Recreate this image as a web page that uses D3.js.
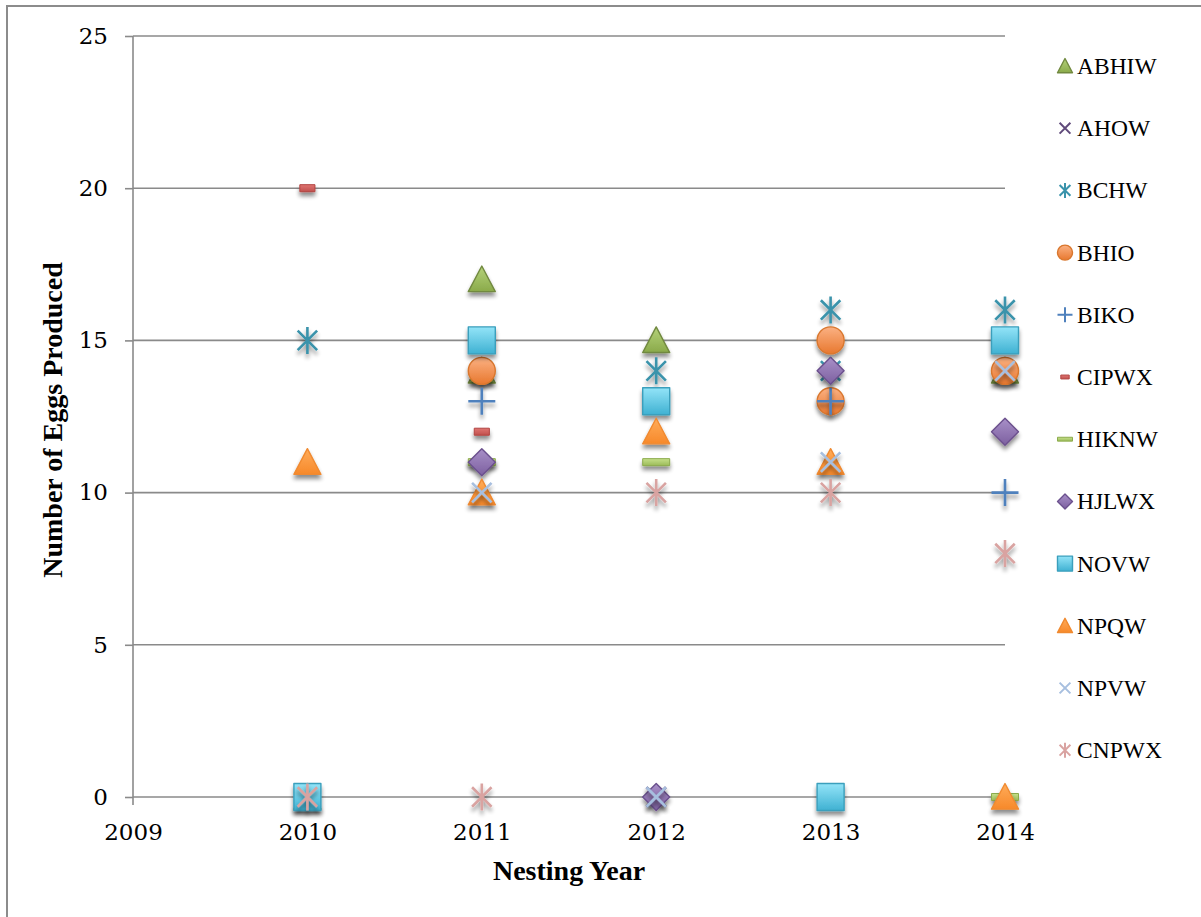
<!DOCTYPE html>
<html>
<head>
<meta charset="utf-8">
<script src="https://cdn.jsdelivr.net/npm/d3@7"></script>
<style>
  html, body { margin: 0; padding: 0; background: #fff; }
  svg { display: block; }
</style>
</head>
<body>
<div id="chart"></div>
<script>
// ---- data ----
const yearTicks = [2009, 2010, 2011, 2012, 2013, 2014];
const eggTicks = [0, 5, 10, 15, 20, 25];

const seriesNames = ["ABHIW", "AHOW", "BCHW", "BHIO", "BIKO", "CIPWX",
                     "HIKNW", "HJLWX", "NOVW", "NPQW", "NPVW", "CNPWX"];

// [year, eggs]
const abhiw = [[2010, 0], [2011, 17], [2011, 14], [2012, 15], [2014, 14]];
const ahow  = [[2010, 0], [2012, 0]];
const bchw  = [[2010, 15], [2011, 14], [2012, 14], [2013, 16], [2013, 14], [2014, 16]];
const bhio  = [[2011, 14], [2013, 15], [2013, 13], [2014, 14]];
const biko  = [[2011, 13], [2013, 13], [2014, 10]];
const cipwx = [[2010, 20], [2011, 12], [2013, 0]];
const hiknw = [[2011, 11], [2012, 11], [2014, 0]];
const hjlwx = [[2011, 11], [2012, 0], [2013, 14], [2014, 12]];
const novw  = [[2010, 0], [2011, 15], [2012, 13], [2013, 0], [2014, 15]];
const npqw  = [[2010, 11], [2011, 10], [2012, 12], [2013, 11], [2014, 0]];
const npvw  = [[2011, 10], [2012, 0], [2013, 11], [2014, 14]];
const cnpwx = [[2010, 0], [2011, 0], [2012, 10], [2013, 10], [2014, 8]];

const seriesValues = [abhiw, ahow, bchw, bhio, biko, cipwx, hiknw, hjlwx, novw, npqw, npvw, cnpwx];

// ---- styles ----
const markerShapes = ["triangle", "x", "star", "circle", "plus", "dash",
                      "dash", "diamond", "square", "triangle", "x", "star"];
const fillTop    = ["#b5d27a", "#604a7b", "#3a93ab", "#fbb183", "#4f81bd", "#e07572",
                    "#c6e08a", "#a890c8", "#93e4f8", "#ffac5a", "#a7bfdf", "#e0a8a6"];
const fillBottom = ["#8aaa4a", "#604a7b", "#3a93ab", "#e8782f", "#4f81bd", "#c0504d",
                    "#9bbb59", "#7d60a0", "#3fb1d2", "#f7892a", "#a7bfdf", "#e0a8a6"];
const strokeCol  = ["#71893f", "#604a7b", "#3a93ab", "#d9772e", "#4f81bd", "#b24542",
                    "#8cab4c", "#6b508d", "#3a9fbc", "#f08a30", "#a7bfdf", "#d9a3a1"];

const W = 1201, H = 917;
const svg = d3.select("#chart").append("svg").attr("width", W).attr("height", H);
const defs = svg.append("defs");

// drop shadow like the Excel markers
const shadow = defs.append("filter").attr("id", "shadow")
  .attr("x", "-50%").attr("y", "-50%").attr("width", "200%").attr("height", "220%");
shadow.append("feGaussianBlur").attr("in", "SourceAlpha").attr("stdDeviation", 2.2).attr("result", "b");
shadow.append("feOffset").attr("in", "b").attr("dx", 0).attr("dy", 4).attr("result", "o");
shadow.append("feComponentTransfer").attr("in", "o").attr("result", "o2")
  .append("feFuncA").attr("type", "linear").attr("slope", 0.45);
const merge = shadow.append("feMerge");
merge.append("feMergeNode").attr("in", "o2");
merge.append("feMergeNode").attr("in", "SourceGraphic");

seriesNames.forEach((n, i) => {
  const g = defs.append("linearGradient").attr("id", "grad" + i)
    .attr("x1", 0).attr("y1", 0).attr("x2", 0).attr("y2", 1);
  g.append("stop").attr("offset", "0%").attr("stop-color", fillTop[i]);
  g.append("stop").attr("offset", "100%").attr("stop-color", fillBottom[i]);
});

// outer chart border (right/bottom edges fall outside the picture)
svg.append("rect").attr("x", 7).attr("y", 6).attr("width", 1230).attr("height", 940)
  .attr("fill", "none").attr("stroke", "#8c8c8c").attr("stroke-width", 2);

const x = d3.scaleLinear().domain([2009, 2014]).range([133, 1005]);
const y = d3.scaleLinear().domain([0, 25]).range([797, 36]);

// gridlines
svg.append("g").selectAll("line").data(eggTicks).join("line")
  .attr("x1", 133).attr("x2", x(2014))
  .attr("y1", d => y(d)).attr("y2", d => y(d))
  .attr("stroke", "#8a8a8a").attr("stroke-width", 1.6);

// y axis
const yAxis = svg.append("g").attr("transform", "translate(133,0)")
  .call(d3.axisLeft(y).tickValues(eggTicks).tickSize(8).tickSizeOuter(0).tickPadding(17));
yAxis.select(".domain").remove();
yAxis.selectAll(".tick line").attr("stroke", "#8a8a8a").attr("stroke-width", 1.6);
yAxis.selectAll(".tick text").attr("font-family", "DejaVu Serif").attr("font-size", 23).attr("fill", "#000");
svg.append("line").attr("x1", 133).attr("x2", 133).attr("y1", y(25)).attr("y2", y(0) + 8)
  .attr("stroke", "#8a8a8a").attr("stroke-width", 1.6);

// x axis
const xAxis = svg.append("g").attr("transform", `translate(0,${y(0)})`)
  .call(d3.axisBottom(x).tickValues(yearTicks).tickFormat(d3.format("d")).tickSize(0).tickPadding(27));
xAxis.select(".domain").remove();
xAxis.selectAll(".tick text").attr("font-family", "DejaVu Serif").attr("font-size", 23).attr("fill", "#000");

// axis titles
svg.append("text").attr("x", 569).attr("y", 880).attr("text-anchor", "middle")
  .attr("font-family", "Liberation Serif").attr("font-weight", "bold").attr("font-size", 28)
  .text("Nesting Year");
svg.append("text").attr("transform", "translate(62,420) rotate(-90)").attr("text-anchor", "middle")
  .attr("font-family", "Liberation Serif").attr("font-weight", "bold").attr("font-size", 28)
  .text("Number of Eggs Produced");

// marker path builder, s = full width
function markerPath(shape, s, dashW) {
  const h = s / 2;
  switch (shape) {
    case "triangle": return `M0,${-h}L${h},${h * 0.9}L${-h},${h * 0.9}Z`;
    case "square": return `M${-h},${-h}H${h}V${h}H${-h}Z`;
    case "diamond": return `M0,${-h}L${h},0L0,${h}L${-h},0Z`;
    case "circle": return d3.arc()({ innerRadius: 0, outerRadius: h, startAngle: 0, endAngle: 2 * Math.PI });
    case "x": { const a = h * 0.72; return `M${-a},${-a}L${a},${a}M${a},${-a}L${-a},${a}`; }
    case "plus": return `M${-h},0H${h}M0,${-h}V${h}`;
    case "star": { const a = h * 0.72; return `M${-a},${-a}L${a},${a}M${a},${-a}L${-a},${a}M0,${-h}V${h}`; }
    case "dash": { const w = dashW / 2, t = s * 0.13; return `M${-w},${-t}H${w}V${t}H${-w}Z`; }
  }
}
const lineShape = s => s === "x" || s === "plus" || s === "star";
function dashWidth(i, s) { return seriesNames[i] === "HIKNW" ? s : s * 0.56; }

function drawMarker(sel, i, s) {
  const shape = markerShapes[i];
  sel.append("path")
    .attr("d", markerPath(shape, s, dashWidth(i, s)))
    .attr("fill", lineShape(shape) ? "none" : `url(#grad${i})`)
    .attr("stroke", strokeCol[i])
    .attr("stroke-width", lineShape(shape) ? (s > 20 ? 2.6 : 2) : (shape === "dash" ? 1 : 1.4))
    .attr("stroke-linejoin", "round");
}

// points
const plot = svg.append("g");
seriesValues.forEach((pts, i) => {
  const g = plot.append("g").attr("class", "series").attr("filter", "url(#shadow)");
  g.selectAll("g").data(pts).join("g")
    .attr("transform", d => `translate(${x(d[0])},${y(d[1])})`)
    .each(function () { drawMarker(d3.select(this), i, 27); });
});

// legend
const legend = svg.append("g");
seriesNames.forEach((n, i) => {
  const row = legend.append("g").attr("transform", `translate(1065,${66 + i * 62.2})`);
  drawMarker(row, i, 15);
  row.append("text").attr("x", 12).attr("y", 8)
    .attr("font-family", "Liberation Serif").attr("font-size", 23.5).attr("fill", "#000")
    .text(n);
});
</script>
</body>
</html>
